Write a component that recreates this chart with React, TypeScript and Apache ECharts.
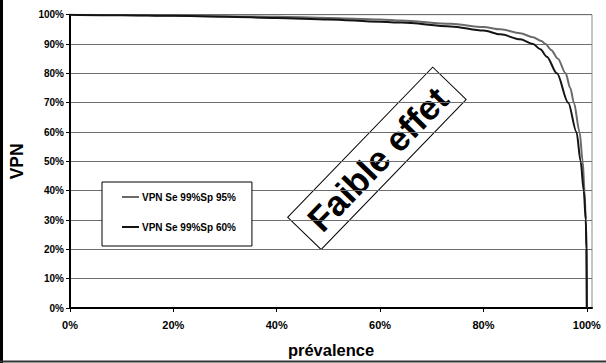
import React, { useEffect, useRef } from "react";
import * as echarts from "echarts";

// Prévalence (fraction) and VPN (%) for Se 99% / Sp 95%
const prevalenceSp95 = [0, 0.1, 0.2, 0.3, 0.4, 0.5, 0.6, 0.641, 0.737, 0.8, 0.833, 0.871, 0.896, 0.912, 0.92, 0.931, 0.944, 0.959, 0.968, 0.975, 0.986, 0.992, 0.9955, 0.998, 0.9993, 1.0];
const vpnSp95 = [100, 99.9, 99.7, 99.5, 99.3, 98.9, 98.4, 98.0, 96.9, 95.8, 95.0, 93.7, 92.3, 91.0, 90.0, 88.0, 85.0, 80.0, 75.0, 70.0, 60.0, 50.0, 40.0, 30.0, 20.0, 0];

// Prévalence (fraction) and VPN (%) for Se 99% / Sp 60%
const prevalenceSp60 = [0, 0.1, 0.2, 0.3, 0.4, 0.5, 0.6, 0.641, 0.737, 0.8, 0.833, 0.871, 0.896, 0.91, 0.9226, 0.942, 0.964, 0.98, 0.988, 0.994, 0.998, 0.9993, 1.0];
const vpnSp60 = [100, 99.8, 99.6, 99.3, 98.9, 98.4, 97.6, 97.3, 96.0, 94.6, 93.3, 91.6, 90.0, 88.2, 85.7, 80.0, 70.0, 60.0, 50.0, 40.0, 30.0, 20.0, 0];

const seriesNames = ["VPN Se 99%Sp 95%", "VPN Se 99%Sp 60%"];
const xTicks = [0, 0.2, 0.4, 0.6, 0.8, 1.0];

const FONT = '"Liberation Sans", Arial, sans-serif';

const pairs = (xs: number[], ys: number[]) => xs.map((x, i) => [x, ys[i] / 100]);
const pct = (v: number) => Math.round(v * 100) + "%";

export default function App() {
  const ref = useRef<HTMLDivElement>(null);

  useEffect(() => {
    if (!ref.current) return;
    const chart = echarts.init(ref.current, null, { renderer: "svg" });
    chart.setOption({
      animation: false,
      backgroundColor: "#fff",
      textStyle: { fontFamily: FONT },
      grid: { left: 66.5, right: 14, top: 14.7, bottom: 54.3, show: true, borderColor: "#8a8a8a", borderWidth: 1 },
      legend: {
        data: seriesNames,
        orient: "vertical",
        left: 102,
        top: 182,
        width: 153,
        padding: [10, 16, 14, 20],
        itemGap: 20,
        itemWidth: 17,
        itemHeight: 2,
        icon: "rect",
        backgroundColor: "#fff",
        borderColor: "#000",
        borderWidth: 1,
        textStyle: { fontSize: 10, fontWeight: "bold", color: "#000", fontFamily: FONT, padding: [0, 0, 0, -2] },
      },
      xAxis: {
        type: "value",
        min: 0,
        max: 1.01,
        name: "prévalence",
        nameLocation: "middle",
        nameGap: 33,
        nameTextStyle: { fontSize: 16.5, fontWeight: "bold", color: "#000", fontFamily: FONT },
        axisLine: { show: true, lineStyle: { color: "#000", width: 2 } },
        axisTick: { show: true, customValues: xTicks, length: 4, lineStyle: { color: "#000" } },
        axisLabel: { customValues: xTicks, formatter: pct, fontSize: 11, fontWeight: "bold", color: "#000", margin: 11, fontFamily: FONT },
        splitLine: { show: false },
      },
      yAxis: {
        type: "value",
        min: 0,
        max: 1,
        interval: 0.1,
        name: "VPN",
        nameLocation: "middle",
        nameGap: 44,
        nameTextStyle: { fontSize: 17.5, fontWeight: "bold", color: "#000", fontFamily: FONT },
        axisLine: { show: true, lineStyle: { color: "#000", width: 2 } },
        axisTick: { show: true, length: 4, lineStyle: { color: "#000" } },
        axisLabel: { formatter: pct, fontSize: 10, fontWeight: "bold", color: "#000", margin: 6, fontFamily: FONT },
        splitLine: { show: true, lineStyle: { color: "#6e6e6e", width: 1 } },
      },
      series: [
        {
          name: seriesNames[0],
          type: "line",
          data: pairs(prevalenceSp95, vpnSp95),
          showSymbol: false,
          symbol: "none",
          smooth: 0.3,
          smoothMonotone: "x",
          lineStyle: { color: "#6a6a6a", width: 2 },
          itemStyle: { color: "#6a6a6a" },
          z: 3,
        },
        {
          name: seriesNames[1],
          type: "line",
          data: pairs(prevalenceSp60, vpnSp60),
          showSymbol: false,
          symbol: "none",
          smooth: 0.3,
          smoothMonotone: "x",
          lineStyle: { color: "#141414", width: 2 },
          itemStyle: { color: "#141414" },
          z: 4,
        },
      ],
      graphic: [
        // outer frame edges
        { type: "line", shape: { x1: 1.5, y1: 0, x2: 1.5, y2: 363 }, style: { stroke: "#000", lineWidth: 3 }, z: 50 },
        { type: "line", shape: { x1: 0, y1: 361.5, x2: 606, y2: 361.5 }, style: { stroke: "#333", lineWidth: 2 }, z: 50 },
        // rotated annotation
        {
          type: "group",
          x: 377,
          y: 158.3,
          rotation: (46 * Math.PI) / 180,
          z: 100,
          children: [
            {
              type: "rect",
              shape: { x: -104.4, y: -23.3, width: 208.7, height: 46.5 },
              style: { fill: "#fff", stroke: "#000", lineWidth: 1 },
            },
            {
              type: "text",
              style: {
                text: "Faible effet",
                x: 0,
                y: 1,
                align: "center",
                verticalAlign: "middle",
                font: 'bold 35px "Liberation Sans", Arial, sans-serif',
                fill: "#000",
              },
            },
          ],
        },
      ],
    });
    return () => chart.dispose();
  }, []);

  return (
    <div
      ref={ref}
      style={{ position: "fixed", left: 0, top: 0, width: 606, height: 363 }}
    />
  );
}
